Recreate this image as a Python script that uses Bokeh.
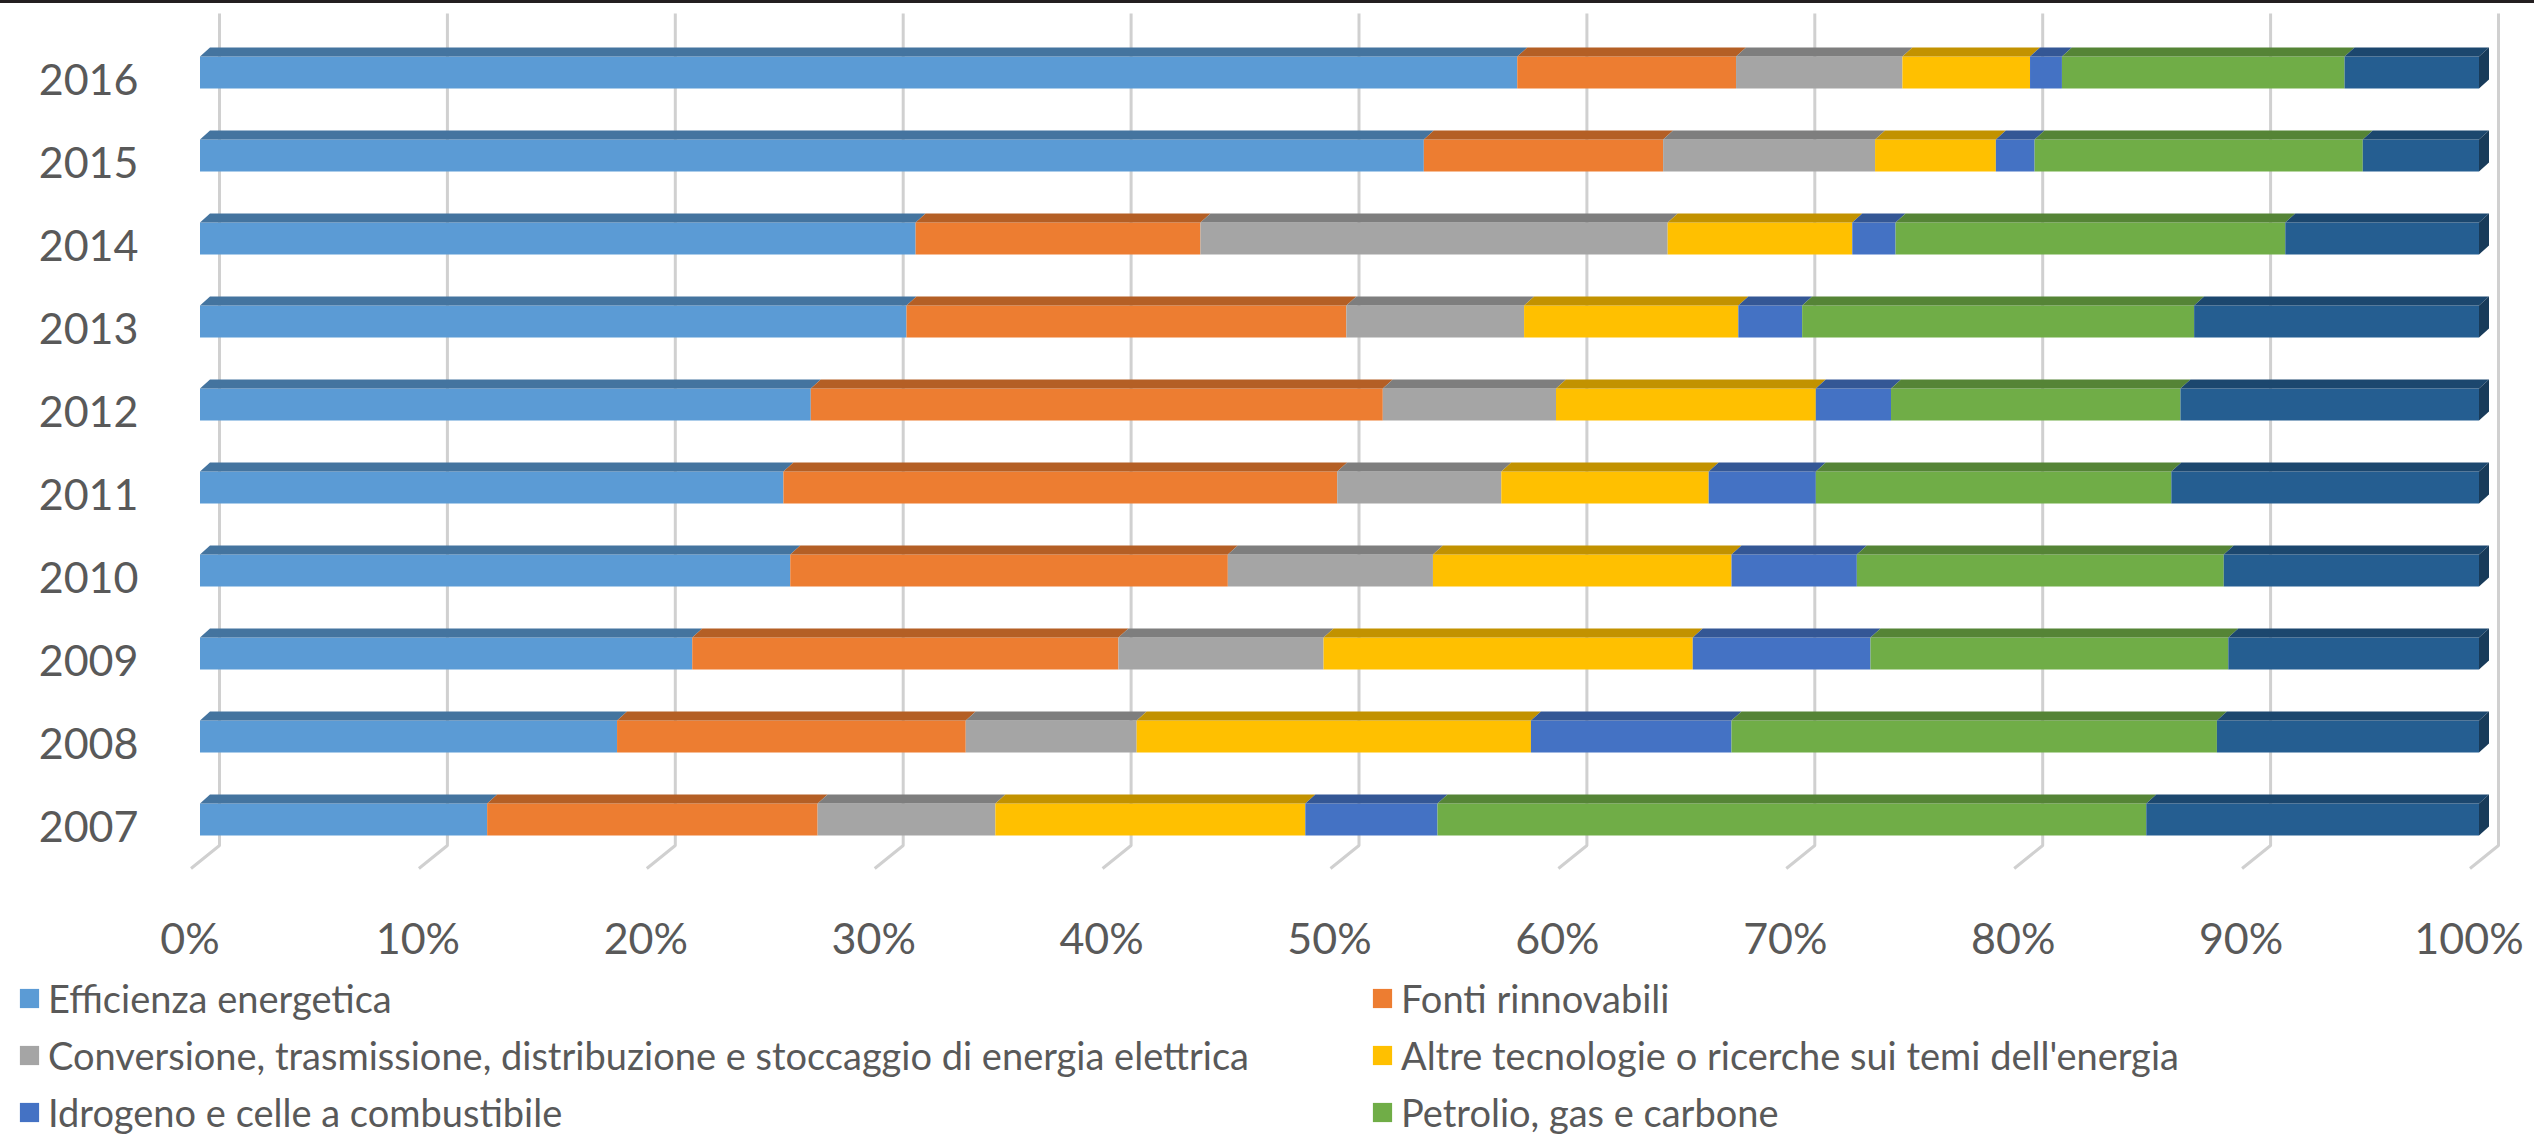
from bokeh.plotting import figure
from bokeh.models import Range1d, Legend, LegendItem, ColumnDataSource, Div
from bokeh.layouts import column
from bokeh.core.properties import value
from bokeh.embed import file_html
from bokeh.resources import INLINE

# ---- data: share of projects per topic (%), one value per year ----
years = ["2007", "2008", "2009", "2010", "2011", "2012", "2013", "2014", "2015", "2016"]

efficienza = [12.6, 18.3, 21.6, 25.9, 25.6, 26.8, 31.0, 31.4, 53.7, 57.8]
rinnovabili = [14.5, 15.3, 18.7, 19.2, 24.3, 25.1, 19.3, 12.5, 10.5, 9.6]
conversione = [7.8, 7.5, 9.0, 9.0, 7.2, 7.6, 7.8, 20.5, 9.3, 7.3]
altre_tecnologie = [13.6, 17.3, 16.2, 13.1, 9.1, 11.4, 9.4, 8.1, 5.3, 5.6]
idrogeno = [5.8, 8.8, 7.8, 5.5, 4.7, 3.3, 2.8, 1.9, 1.7, 1.4]
petrolio = [31.1, 21.3, 15.7, 16.1, 15.6, 12.7, 17.2, 17.1, 14.4, 12.4]
settima_voce = [14.6, 11.5, 11.0, 11.2, 13.5, 13.1, 12.5, 8.5, 5.1, 5.9]

labels = [
    "Efficienza energetica",
    "Fonti rinnovabili",
    "Conversione, trasmissione, distribuzione e stoccaggio di energia elettrica",
    "Altre tecnologie o ricerche sui temi dell'energia",
    "Idrogeno e celle a combustibile",
    "Petrolio, gas e carbone",
]

pct_ticks = [0, 10, 20, 30, 40, 50, 60, 70, 80, 90, 100]
pct_labels = [f"{t}%" for t in pct_ticks]

series = [efficienza, rinnovabili, conversione, altre_tecnologie, idrogeno, petrolio, settima_voce]
front_colors = ["#5B9BD5", "#ED7D31", "#A5A5A5", "#FFC000", "#4472C4", "#70AD47", "#255E91"]
top_colors = ["#44749F", "#B45F25", "#7E7E7E", "#C29200", "#345795", "#558436", "#1C476E"]
side_color = "#183B5A"

# ---- layout in pixels ----
W, H = 2534, 1133
PX = 22.79          # pixels per percent point
X0 = 199.5          # pixel of 0 %
ROW = 83.0          # pixels per category
ROW0 = 816.0        # pixel (from top) of the first category centre

FONT = value("Lato")
TXT = "#595959"

x_start = -X0 / PX
x_end = x_start + W / PX
y_end = ROW0 / ROW
y_start = y_end - H / ROW


def fx(px):
    return x_start + px / PX


def fy(px):
    return y_end - px / ROW


BH = 32 / ROW     # front face height
DX = 10 / PX      # depth shift in x
DY = 9 / ROW      # depth shift in y

p = figure(width=W, height=H, output_backend="svg", toolbar_location=None,
           x_range=Range1d(x_start, x_end), y_range=Range1d(y_start, y_end),
           x_axis_location=None, y_axis_location=None, min_border=0)
p.grid.visible = False
p.outline_line_color = None
p.background_fill_color = "white"
p.border_fill_color = "white"

# back wall gridlines with the floor edge
wall_dx = 19.5 / PX
floor_dx = -9 / PX
gx = [[t + wall_dx, t + wall_dx, t + floor_dx] for t in pct_ticks]
gy = [[fy(10), fy(842), fy(865)] for _ in pct_ticks]
p.multi_line(gx, gy, line_color="#D0D0D0", line_width=3)

# stacked 3-D bars
rows = list(range(len(years)))
totals = [sum(s[i] for s in series) for i in rows]
left = [0.0] * len(rows)
bar_renderers = []
for k, vals in enumerate(series):
    share = [100.0 * v / t for v, t in zip(vals, totals)]
    right = [l + v for l, v in zip(left, share)]
    src = ColumnDataSource(dict(y=rows, left=left, right=right))
    r = p.hbar(y="y", left="left", right="right", height=BH, source=src,
               fill_color=front_colors[k], line_color=None)
    bar_renderers.append(r)
    xs = [[l, rr, rr + DX, l + DX] for l, rr in zip(left, right)]
    ys = [[i + BH / 2, i + BH / 2, i + BH / 2 + DY, i + BH / 2 + DY] for i in rows]
    p.patches(xs, ys, fill_color=top_colors[k], line_color=None)
    left = right

side_xs = [[rr, rr + DX, rr + DX, rr] for rr in left]
side_ys = [[i + BH / 2, i + BH / 2 + DY, i - BH / 2 + DY, i - BH / 2] for i in rows]
p.patches(side_xs, side_ys, fill_color=side_color, line_color=None)

# category labels (years)
p.text(x=[fx(138)] * len(rows), y=[i - 6.5 / ROW for i in rows], text=years,
       text_align="right", text_baseline="middle", text_font=FONT,
       text_font_size="43px", text_color=TXT)

# percentage labels
p.text(x=[t - 10 / PX for t in pct_ticks], y=[fy(934)] * len(pct_ticks), text=pct_labels,
       text_align="center", text_baseline="middle", text_font=FONT,
       text_font_size="43px", text_color=TXT)

# legend in two columns
ITEM_H = 46
SPACING = 11
first_row_c = 995.0
last_row_c = first_row_c + 2 * (ITEM_H + SPACING)
leg_bottom = H - (last_row_c + ITEM_H / 2)


def make_legend(idx, x_px):
    lg = Legend(items=[LegendItem(label=labels[i], renderers=[bar_renderers[i]]) for i in idx],
                location=(x_px, leg_bottom), orientation="vertical")
    lg.glyph_width = 24
    lg.glyph_height = 24
    lg.label_standoff = 7
    lg.label_height = ITEM_H
    lg.spacing = SPACING
    lg.padding = 0
    lg.margin = 0
    lg.border_line_color = None
    lg.background_fill_alpha = 0
    lg.label_text_font = "Lato"
    lg.label_text_font_size = "38px"
    lg.label_text_color = TXT
    return lg


p.add_layout(make_legend([0, 2, 4], 17))
p.add_layout(make_legend([1, 3, 5], 1370))

band = Div(width=W, height=3, margin=0, styles={"background-color": "#231F20"})
layout = column(band, p, spacing=0)

open("out.html", "w").write(file_html(layout, INLINE))
